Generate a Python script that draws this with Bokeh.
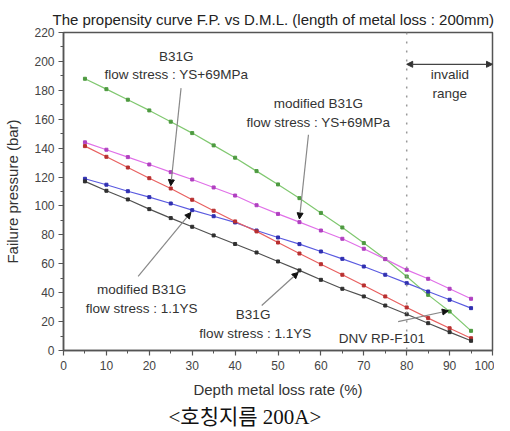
from bokeh.plotting import figure
from bokeh.models import Label, Arrow, NormalHead, Span, FixedTicker, Range1d, Title
from bokeh.embed import file_html
from bokeh.resources import INLINE

# ---- data ----
depth = [5, 10, 15, 20, 25, 30, 35, 40, 45, 50, 55, 60, 65, 70, 75, 80, 85, 90, 95]
b31g_ys69 = [188.0, 180.8, 173.5, 166.1, 158.3, 150.4, 141.9, 133.4, 124.1, 114.9,
             105.4, 95.2, 85.1, 74.3, 63.3, 51.2, 38.5, 27.0, 13.6]
mod_b31g_ys69 = [144.0, 138.9, 133.8, 128.7, 123.4, 118.3, 112.8, 107.2, 100.5, 94.5,
                 88.8, 83.0, 77.3, 70.4, 63.2, 55.8, 49.6, 42.7, 35.8]
mod_b31g_11ys = [118.8, 114.7, 110.2, 106.1, 101.7, 97.1, 92.9, 88.6, 83.0, 78.2,
                 73.6, 68.5, 63.4, 58.1, 52.4, 46.6, 40.8, 35.1, 29.3]
b31g_11ys = [141.4, 134.0, 126.6, 119.2, 112.1, 104.3, 96.7, 89.3, 82.4, 74.7,
             67.1, 59.7, 52.4, 45.0, 37.4, 29.8, 22.4, 15.4, 8.5]
dnv = [117.0, 110.5, 104.5, 97.8, 91.6, 85.6, 79.6, 73.7, 67.8, 61.6,
       55.4, 48.9, 42.7, 37.4, 31.1, 25.1, 18.9, 12.7, 6.7]

x_ticks = [0, 10, 20, 30, 40, 50, 60, 70, 80, 90, 100]
y_ticks = [0, 20, 40, 60, 80, 100, 120, 140, 160, 180, 200, 220]
invalid_start = 80

FONT = "Liberation Sans"

p = figure(frame_width=429, frame_height=318, output_backend="svg", toolbar_location=None,
           x_range=Range1d(0, 100), y_range=Range1d(0, 220),
           min_border_left=63, min_border_right=2, min_border_top=32, min_border_bottom=72)
p.title.text = "The propensity curve F.P. vs D.M.L. (length of metal loss : 200mm)"
p.title.align = "left"
p.title.offset = -11
p.title.text_font = FONT
p.title.text_font_size = "15px"
p.title.text_font_style = "normal"
p.title.text_color = "#222222"
p.title.standoff = 10

p.grid.visible = False
p.outline_line_color = "#555555"
p.outline_line_width = 1.5
p.background_fill_color = "white"
p.border_fill_color = "white"

p.xaxis.ticker = FixedTicker(ticks=x_ticks, minor_ticks=list(range(0, 101, 5)))
p.yaxis.ticker = FixedTicker(ticks=y_ticks, minor_ticks=list(range(0, 221, 10)))
for ax in (p.xaxis, p.yaxis):
    ax.axis_line_color = "#555555"
    ax.axis_line_width = 1.5
    ax.major_tick_line_color = "#555555"
    ax.minor_tick_line_color = "#555555"
    ax.major_tick_line_width = 1.2
    ax.major_tick_in = 0
    ax.major_tick_out = 5
    ax.minor_tick_in = 0
    ax.minor_tick_out = 3
    ax.major_label_text_font = FONT
    ax.major_label_text_font_size = "12px"
    ax.major_label_text_color = "#444444"
    ax.axis_label_text_font = FONT
    ax.axis_label_text_font_size = "15px"
    ax.axis_label_text_font_style = "normal"
    ax.axis_label_text_color = "#333333"
p.xaxis.axis_label = "Depth metal loss rate (%)"
p.yaxis.axis_label = "Failure pressure (bar)"
p.xaxis.major_label_standoff = 5
p.yaxis.major_label_standoff = 4
p.xaxis.axis_label_standoff = 8
p.yaxis.axis_label_standoff = 10

series = [
    (b31g_ys69, "#80c870", "#4e9a40"),
    (mod_b31g_ys69, "#e070e8", "#b040c0"),
    (mod_b31g_11ys, "#5a5ae0", "#3030b0"),
    (b31g_11ys, "#e86060", "#b83030"),
    (dnv, "#505050", "#303030"),
]
for ys, lc, mc in series:
    p.line(depth, ys, line_color=lc, line_width=1.2)
    p.scatter(depth, ys, size=3, marker="square", fill_color=mc, line_color=mc)

# invalid range
p.add_layout(Span(location=invalid_start, dimension="height", line_color="#999999",
                  line_width=1.5, line_dash="2 7"))
p.add_layout(Arrow(x_start=invalid_start, y_start=198, x_end=100, y_end=198,
                   line_color="#444444", line_width=1.3,
                   start=NormalHead(size=6, fill_color="#333333", line_color="#333333"),
                   end=NormalHead(size=6, fill_color="#333333", line_color="#333333")))


def lab(x, y, t, size="13.5px"):
    p.add_layout(Label(x=x, y=y, text=t, text_align="center", text_baseline="middle",
                       text_font=FONT, text_font_size=size, text_color="#333333"))


def arr(x0, y0, x1, y1):
    p.add_layout(Arrow(x_start=x0, y_start=y0, x_end=x1, y_end=y1,
                       line_color="#888888", line_width=1.2,
                       end=NormalHead(size=6, fill_color="#111111", line_color="#111111")))


lab(90.05, 191.2, "invalid")
lab(90.05, 178.0, "range")

lab(26.3, 203.5, "B31G")
lab(26.3, 191.0, "flow stress : YS+69MPa")
arr(27.4, 181.5, 25.0, 114.0)

lab(59.4, 171.1, "modified B31G")
lab(59.4, 157.8, "flow stress : YS+69MPa")
arr(57.1, 149.3, 55.0, 91.0)

lab(18.2, 42.0, "modified B31G")
lab(18.2, 29.3, "flow stress : 1.1YS")
arr(17.4, 51.2, 29.7, 95.5)

lab(44.2, 24.7, "B31G")
lab(44.7, 12.0, "flow stress : 1.1YS")
arr(46.2, 31.1, 54.7, 54.0)

lab(74.2, 8.5, "DNV RP-F101")
arr(78.0, 20.0, 89.7, 27.5)

# caption
cap = Title(text="<호칭지름 200A>", align="left", offset=105,
            text_font="Liberation Serif, Noto Sans CJK KR", text_font_size="21px",
            text_font_style="normal", text_color="#111111", standoff=5)
p.add_layout(cap, "below")

open("out.html", "w").write(file_html(p, INLINE))
